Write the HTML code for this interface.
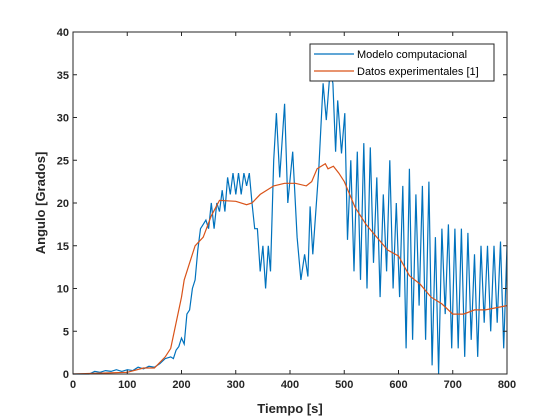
<!DOCTYPE html>
<html><head><meta charset="utf-8"><style>body{margin:0;background:#fff}svg{display:block;font-family:"Liberation Sans",Arial,sans-serif}</style></head>
<body>
<svg id="c" width="560" height="420"></svg>
<script>
const xTicks=[0,100,200,300,400,500,600,700,800];
const yTicks=[0,5,10,15,20,25,30,35,40];
const blueT=[0,30,40,50,60,70,80,90,100,110,120,130,140,150,160,170,180,185,190,195,200,205,210,215,220,225,230,235,240,245,250,255,260,265,270,275,280,285,290,295,300,305,310,315,320,325,330,335,340,345,350,355,360,364,370,375,381,390,396,405,413,420,427,433,437,442,453,461,467,474,479,484,488,495,501,506,512,518,524,530,536,542,548,554,560,566,572,578,584,590,596,602,608,614,620,626,632,638,644,650,656,662,668,674,680,686,692,698,704,710,716,722,728,734,740,746,752,758,764,770,776,782,788,794,800];
const blueV=[0,0,0.3,0.2,0.4,0.3,0.5,0.3,0.5,0.4,0.8,0.6,0.9,0.8,1.2,1.8,2,1.8,2.8,3.2,4.2,3.5,7,7.5,10,11,14.5,17,17.5,18,17,20,17,20,19,21.5,19,23,21,23.5,21,23.5,21,23.5,22,23.5,20,17,17,12,15,10,15,12,25,30.5,23,31.6,20,26,16,11,14,11.4,19.6,14,24,34,29.7,35.5,34,26,32,25.8,30.5,15.7,25,12,26,11,27,10,26.5,13,23,9,21,12,25,10,20,9,22,3,24,4,21,8,22,4,22.5,1,16,0,17,7,17.5,3,17,3,17,2,16.5,4,14,2,15,6,15,5,15,6,15.5,3,15,12];
const redT=[0,100,130,150,170,180,190,200,205,215,225,240,255,270,300,320,330,345,370,390,410,430,440,450,465,470,480,490,500,520,540,560,580,600,620,640,660,680,700,720,740,760,800];
const redV=[0,0.2,0.7,0.7,2,3,6,9,11,13,15,16,18.5,20.3,20.2,19.8,20,21,22,22.3,22.3,22,22.5,24,24.6,24,24.3,23.5,22.5,19.5,17.5,16,14.5,13.8,11.5,10.5,9,8.2,7,7,7.5,7.5,8];
const L=73,R=507,T=32,B=374;
const X=t=>L+(t/800)*(R-L), Y=v=>B-(v/40)*(B-T);
const svg=document.getElementById('c');const NS='http://www.w3.org/2000/svg';
function mk(tag,at,parent){const e=document.createElementNS(NS,tag);for(const k in at)e.setAttribute(k,at[k]);(parent||svg).appendChild(e);return e;}
let r=mk('rect',{x:L,y:T,width:R-L,height:B-T,fill:'#fff'});


function path(ts,vs,col,name){let d=ts.map((t,i)=>(i?'L':'M')+X(t).toFixed(1)+','+Y(Math.max(0,Math.min(40,vs[i]))).toFixed(1)).join('');const p=mk('path',{d:d,fill:'none',stroke:col,'stroke-width':1.2});

}
path(blueT,blueV,'#0072bd','modelo-computacional-line');
path(redT,redV,'#d95319','datos-experimentales-line');
const g=mk('g',{});


mk('rect',{x:L,y:T,width:R-L,height:B-T,fill:'none',stroke:'#262626','stroke-width':1},g);
xTicks.forEach(t=>{const x=X(t);mk('line',{x1:x,x2:x,y1:B,y2:B-4,stroke:'#262626'},g);mk('line',{x1:x,x2:x,y1:T,y2:T+4,stroke:'#262626'},g);
const tx=mk('text',{x:x,y:B+14,'text-anchor':'middle','font-size':11,'font-weight':'bold',fill:'#262626'},g);tx.textContent=t;

});
yTicks.forEach(v=>{const y=Y(v);mk('line',{x1:L,x2:L+4,y1:y,y2:y,stroke:'#262626'},g);mk('line',{x1:R,x2:R-4,y1:y,y2:y,stroke:'#262626'},g);
const tx=mk('text',{x:L-4,y:y+4,'text-anchor':'end','font-size':11,'font-weight':'bold',fill:'#262626'},g);tx.textContent=v;

});
let xt=mk('text',{x:(L+R)/2,y:413,'text-anchor':'middle','font-size':13,'font-weight':'bold',fill:'#262626'});xt.textContent='Tiempo [s]';


let yt=mk('text',{x:0,y:0,'text-anchor':'middle','font-size':13,'font-weight':'bold',fill:'#262626',transform:'translate(45,'+((T+B)/2)+') rotate(-90)'});yt.textContent='Angulo [Grados]';


const lg=mk('g',{});


mk('rect',{x:310,y:44,width:184,height:37,fill:'#fff',stroke:'#262626'},lg);
mk('line',{x1:314,x2:354,y1:54,y2:54,stroke:'#0072bd','stroke-width':1.2},lg);
mk('line',{x1:314,x2:354,y1:71,y2:71,stroke:'#d95319','stroke-width':1.2},lg);
let t1=mk('text',{x:357,y:58,'font-size':11,fill:'#000'},lg);t1.textContent='Modelo computacional';


let t2=mk('text',{x:357,y:75,'font-size':11,fill:'#000'},lg);t2.textContent='Datos experimentales [1]';


</script>
</body></html>
